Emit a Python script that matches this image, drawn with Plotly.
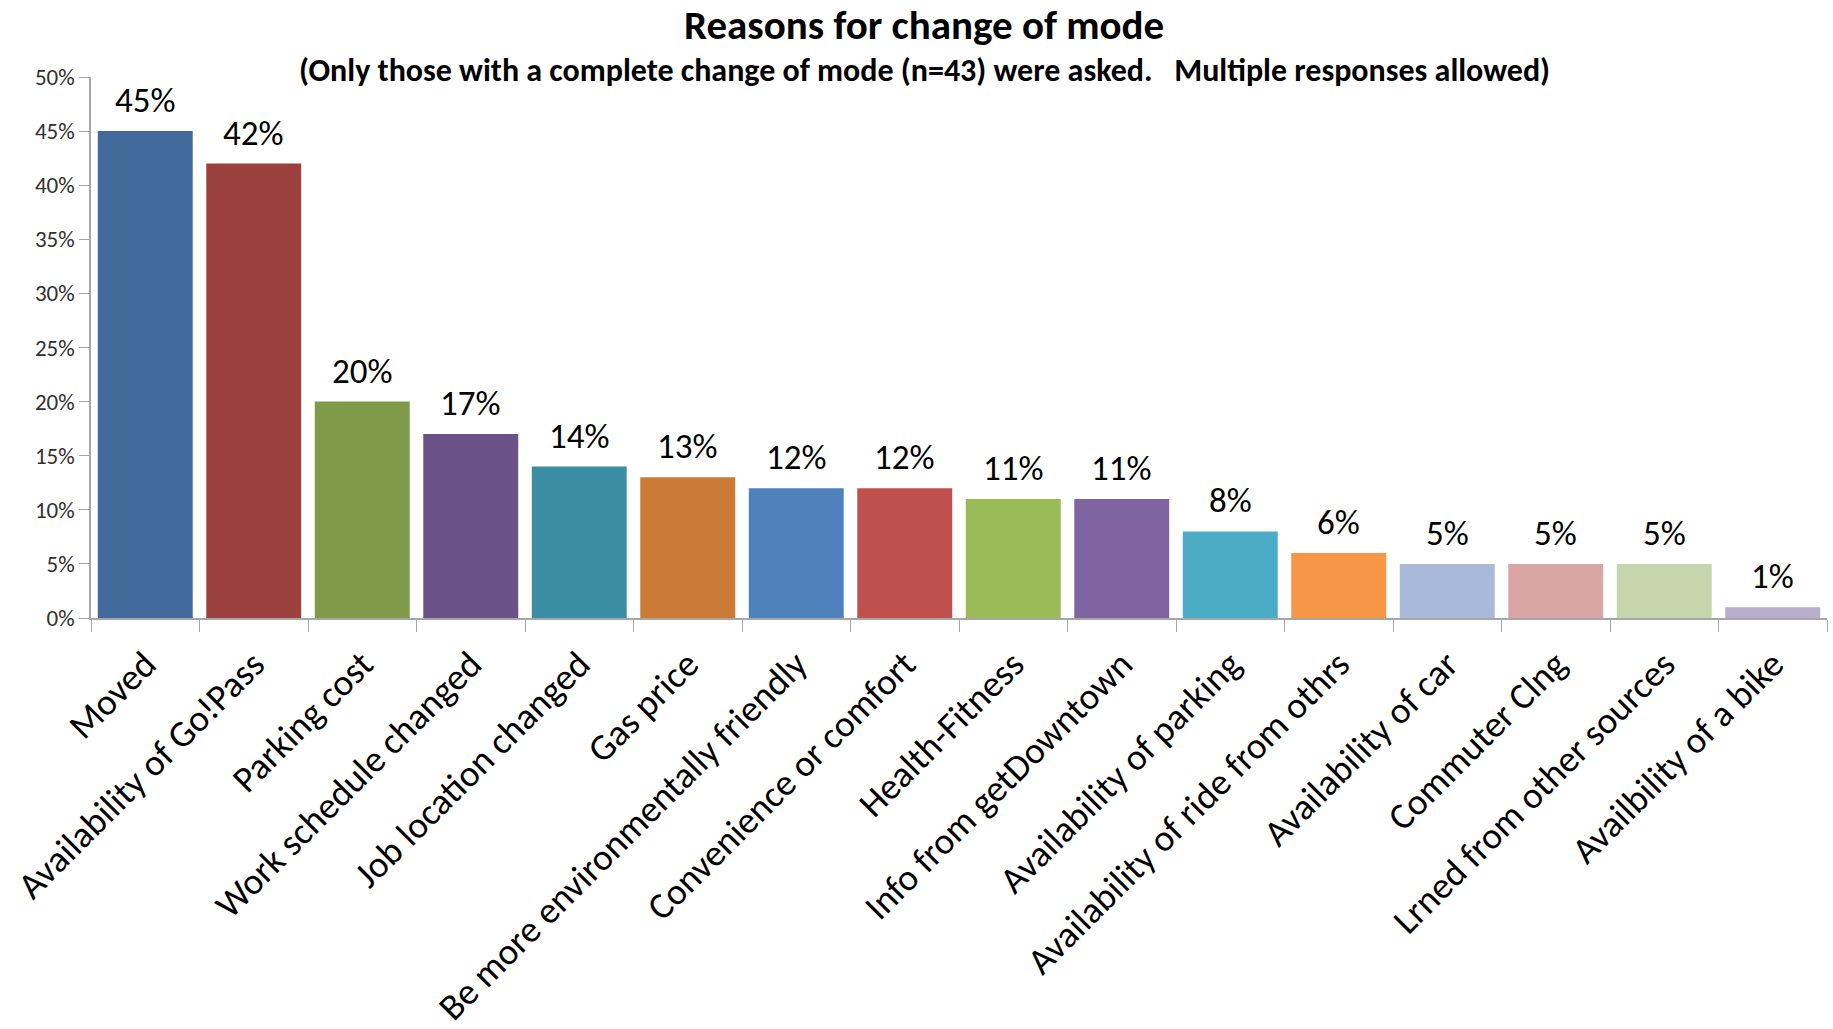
import plotly.graph_objects as go

# Survey results: share of respondents citing each reason
reasons = [
    "Moved", "Availability of Go!Pass", "Parking cost", "Work schedule changed",
    "Job location changed", "Gas price", "Be more environmentally friendly",
    "Convenience or comfort", "Health-Fitness", "Info from getDowntown",
    "Availability of parking", "Availability of ride from othrs",
    "Availability of car", "Commuter Clng", "Lrned from other sources",
    "Availbility of a bike",
]
shares = [0.45, 0.42, 0.20, 0.17, 0.14, 0.13, 0.12, 0.12, 0.11, 0.11,
          0.08, 0.06, 0.05, 0.05, 0.05, 0.01]
bar_colors = [
    "#41699A", "#9C403E", "#7F9A48", "#6A5188", "#3A8DA3", "#CB7B37",
    "#4F81BD", "#C0504D", "#9BBB59", "#8064A2", "#4BACC6", "#F79646",
    "#A9B9D9", "#D9A6A5", "#C6D6AC", "#B9ADCC",
]
y_ticks = [0, 0.05, 0.10, 0.15, 0.20, 0.25, 0.30, 0.35, 0.40, 0.45, 0.50]

FONT = "Carlito, Lato, 'Open Sans', sans-serif"

fig = go.Figure(
    go.Bar(
        x=reasons,
        y=shares,
        marker=dict(color=bar_colors, line=dict(width=0)),
        cliponaxis=False,
    )
)

# value labels above each bar
value_labels = [
    dict(x=r, y=v, text=f"{v:.0%}", xref="x", yref="y", showarrow=False,
         yanchor="middle", yshift=31,
         font=dict(family=FONT, size=35, color="#000000"))
    for r, v in zip(reasons, shares)
]

fig.update_layout(
    width=1833,
    height=1029,
    margin=dict(l=91, r=6, t=77, b=411),
    paper_bgcolor="white",
    plot_bgcolor="white",
    bargap=0.125,
    showlegend=False,
    font=dict(family=FONT),
    annotations=value_labels + [
        dict(text="<b>Reasons for change of mode</b>", xref="paper", yref="paper",
             x=0.48, y=1.0, yshift=77 - 25, showarrow=False,
             font=dict(family=FONT, size=41, color="#000000"),
             xanchor="center", yanchor="middle"),
        dict(text="<b>(Only those with a complete change of mode (n=43) were asked.&nbsp;&nbsp; Multiple responses allowed)</b>",
             xref="paper", yref="paper", x=0.48, y=1.0, yshift=77 - 70,
             showarrow=False, font=dict(family=FONT, size=32, color="#000000"),
             xanchor="center", yanchor="middle"),
    ],
)

fig.update_xaxes(
    tickangle=-45,
    tickfont=dict(family=FONT, size=37, color="#000000"),
    showline=True, linecolor="#A6A6A6", linewidth=1.5,
    ticks="outside", tickson="boundaries", ticklen=12, tickcolor="#A6A6A6",
    ticklabelstandoff=8,
    showgrid=False, automargin=False,
)
fig.update_yaxes(
    range=[0, 0.5],
    tickvals=y_ticks,
    tickformat=".0%",
    tickfont=dict(family=FONT, size=23, color="#303030"),
    showline=True, linecolor="#A6A6A6", linewidth=1.5,
    ticks="outside", ticklen=10, tickcolor="#A6A6A6",
    showgrid=False, zeroline=False, automargin=False,
)

fig.write_html("out.html")
